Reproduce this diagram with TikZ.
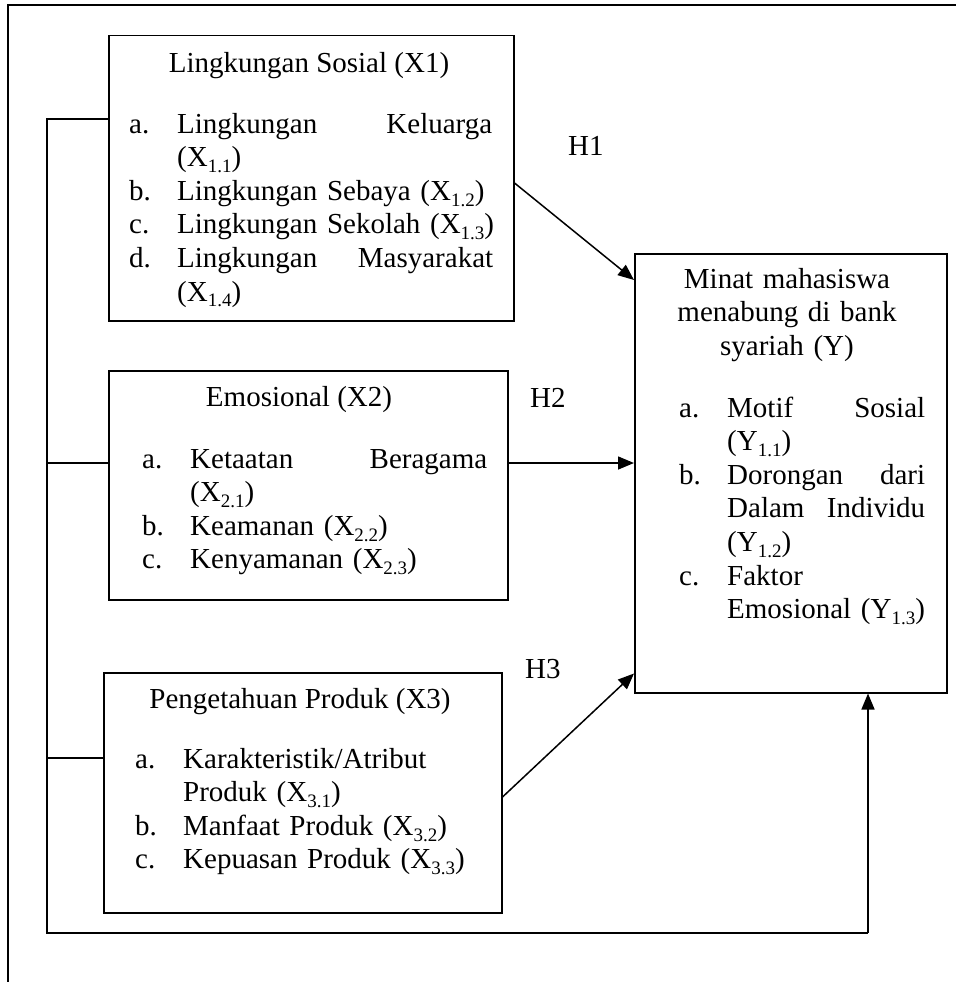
\documentclass[tikz,border=0pt]{standalone}
\usepackage{fontspec}
\setmainfont{Liberation Serif}
\usetikzlibrary{arrows.meta}
\newcommand{\sub}[1]{\raisebox{-0.2em}{\fontsize{19}{19}\selectfont #1}}
\newcommand{\li}[2]{\makebox[48pt][l]{#1}#2}
\newcommand{\jl}[3]{\hbox to #1{#2\hfill #3}}
\newcommand{\ind}{\hspace*{48pt}}
\begin{document}
\begin{tikzpicture}[x=1pt,y=-1pt,
  every node/.style={font=\fontsize{29}{33.6}\selectfont},
  box/.style={draw, line width=1.5pt, anchor=north west, inner sep=0pt},
  lst/.style={anchor=base west, inner sep=0pt, text width=420pt, align=left},
  ttl/.style={anchor=base, inner sep=0pt},
  hl/.style={anchor=base west, inner sep=0pt},
  conn/.style={line width=1.5pt},
  arr/.style={conn, -{Triangle[length=16pt,width=13pt]}}]
\useasboundingbox (0,0) rectangle (956,982);
% outer frame
\coordinate (f1) at (8,982);
\coordinate (f2) at (8,5);
\coordinate (f3) at (956,5);
\draw[line width=1.4pt] (f1) -- (f2) -- (f3);
% boxes
\node[box, minimum width=405pt, minimum height=285pt] (x1) at (108,35) {};
\node[box, minimum width=399pt, minimum height=229pt] (x2) at (108,370) {};
\node[box, minimum width=398pt, minimum height=240pt] (x3) at (103,672) {};
\node[box, minimum width=312pt, minimum height=439pt] (y) at (634,253) {};
% titles
\node[ttl] (t1) at (309,72) {Lingkungan Sosial (X1)};
\node[ttl] (t2) at (299,406) {Emosional (X2)};
\node[ttl] (t3) at (300,708) {Pengetahuan Produk (X3)};
\node[ttl, text width=300pt, align=center] (t4) at (787,288) {Minat mahasiswa\\menabung di bank\\syariah (Y)};
% lists
\node[lst] (l1) at (129,133) {\li{a.}{\jl{315pt}{Lingkungan}{Keluarga}}\\
\ind(X\sub{1.1})\\
\li{b.}{Lingkungan Sebaya (X\sub{1.2})}\\
\li{c.}{Lingkungan Sekolah (X\sub{1.3})}\\
\li{d.}{\jl{316pt}{Lingkungan}{Masyarakat}}\\
\ind(X\sub{1.4})};
\node[lst] (l2) at (142,468) {\li{a.}{\jl{297pt}{Ketaatan}{Beragama}}\\
\ind(X\sub{2.1})\\
\li{b.}{Keamanan (X\sub{2.2})}\\
\li{c.}{Kenyamanan (X\sub{2.3})}};
\node[lst] (l3) at (135,768) {\li{a.}{Karakteristik/Atribut}\\
\ind Produk (X\sub{3.1})\\
\li{b.}{Manfaat Produk (X\sub{3.2})}\\
\li{c.}{Kepuasan Produk (X\sub{3.3})}};
\node[lst] (l4) at (679,417) {\li{a.}{\jl{198pt}{Motif}{Sosial}}\\
\ind(Y\sub{1.1})\\
\li{b.}{\jl{198pt}{Dorongan}{dari}}\\
\ind\jl{198pt}{Dalam}{Individu}\\
\ind(Y\sub{1.2})\\
\li{c.}{Faktor}\\
\ind Emosional (Y\sub{1.3})};
% hypothesis labels
\node[hl] (h1) at (568,155) {H1};
\node[hl] (h2) at (530,407) {H2};
\node[hl] (h3) at (525,678) {H3};
% bus on the left
\coordinate (bt) at (47,119);
\coordinate (b2) at (47,463);
\coordinate (b3) at (47,758);
\coordinate (bb) at (47,933);
\coordinate (bc) at (868,933);
\draw[conn] (x1.west |- bt) -- (bt) -- (bb) -- (bc);
\draw[conn] (b2) -- (b2 -| x2.west);
\draw[conn] (b3) -- (b3 -| x3.west);
\draw[arr] (bc) -- (bc |- y.south);
% hypothesis arrows
\coordinate (s1) at ([yshift=-148pt]x1.north east);
\coordinate (e1) at ([yshift=-27pt]y.north west);
\draw[arr] (s1) -- (e1);
\coordinate (s2) at ([yshift=-93pt]x2.north east);
\draw[arr] (s2) -- (s2 -| y.west);
\coordinate (s3) at ([yshift=-125pt]x3.north east);
\coordinate (e3) at ([yshift=20pt]y.south west);
\draw[arr] (s3) -- (e3);
\end{tikzpicture}
\end{document}
